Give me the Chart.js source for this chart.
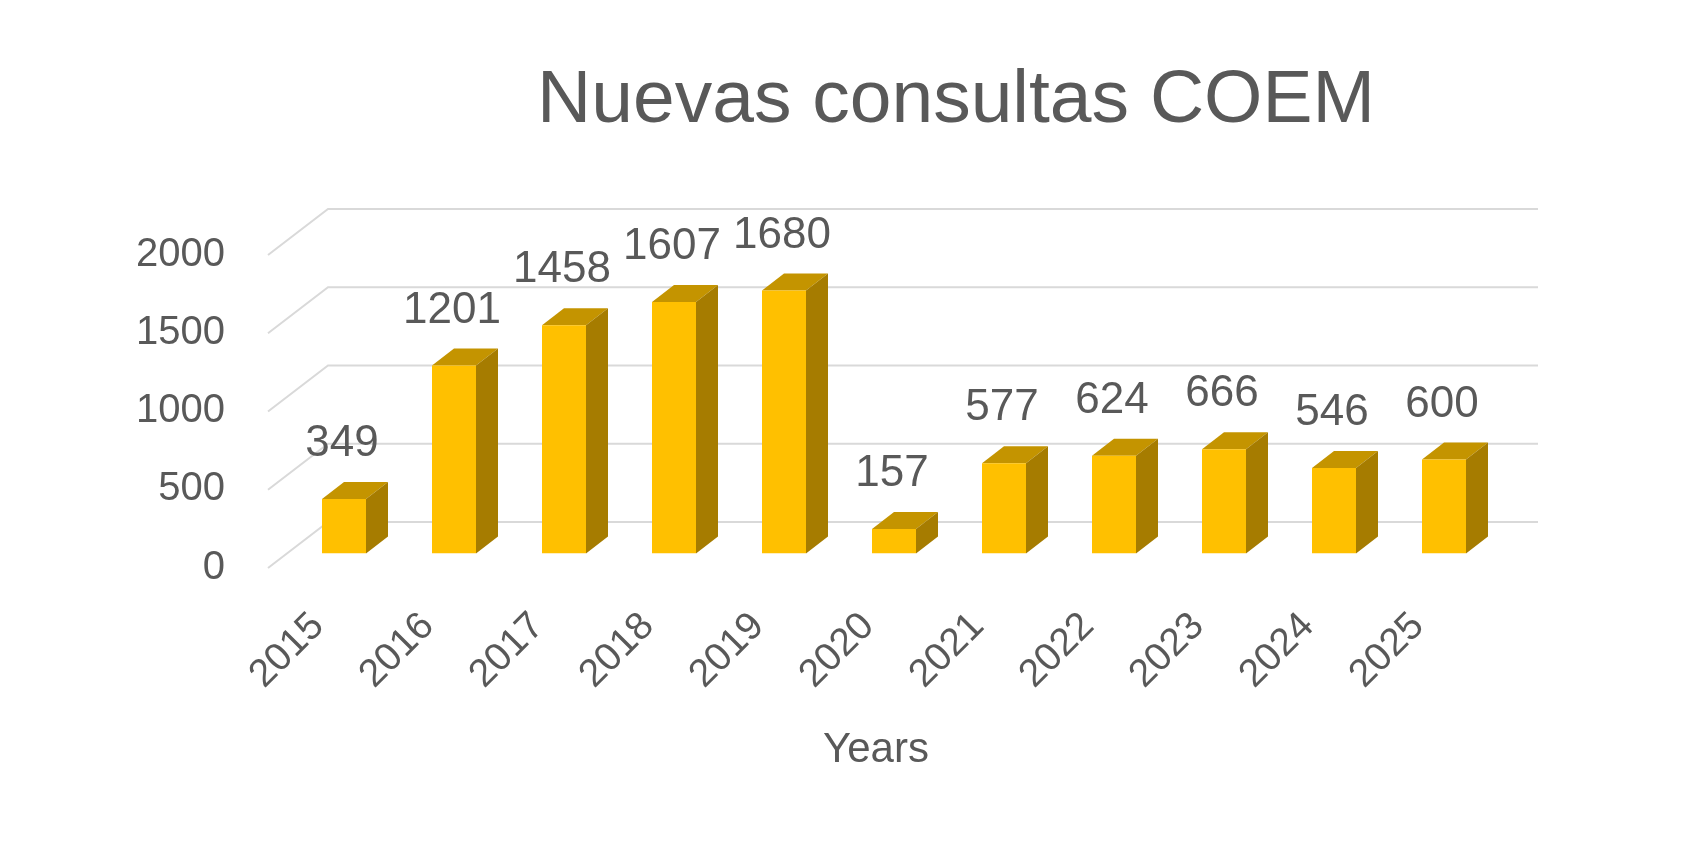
<!DOCTYPE html>
<html>
<head>
<meta charset="utf-8">
<title>Nuevas consultas COEM</title>
<script src="https://cdn.jsdelivr.net/npm/chart.js@4.4.1/dist/chart.umd.min.js"></script>
<style>
    html, body { margin: 0; padding: 0; background: #ffffff; }
    #contenedor { width: 1696px; height: 850px; }
</style>
</head>
<body>
<div id="contenedor"><canvas id="graficaConsultas"></canvas></div>
<script>
const years = ["2015", "2016", "2017", "2018", "2019", "2020", "2021", "2022", "2023", "2024", "2025"];
const consultas = [349, 1201, 1458, 1607, 1680, 157, 577, 624, 666, 546, 600];
const yTicks = [0, 500, 1000, 1500, 2000];
const chartTitle = "Nuevas consultas COEM";
const xAxisTitle = "Years";

const FUENTE = '"Liberation Sans", Arial, sans-serif';
const GRIS_TEXTO = "#595959";
const GRIS_LINEA = "#d9d9d9";

// desplazamientos de la perspectiva respecto al plano de las barras
const planoFrente = { dx: -21, dy: 14.5 };
const planoFondo = { dx: 39, dy: -31.5 };
const fondoBarra = { dx: 22, dy: -17 };

const efecto3d = {
    id: "efecto3d",
    beforeDatasetsDraw(chart) {
        const { ctx, chartArea, scales } = chart;
        const y = scales.y;
        ctx.save();
        ctx.strokeStyle = GRIS_LINEA;
        ctx.lineWidth = 2;
        yTicks.forEach((v) => {
            const py = y.getPixelForValue(v);
            ctx.beginPath();
            ctx.moveTo(chartArea.left + planoFrente.dx, py + planoFrente.dy);
            ctx.lineTo(chartArea.left + planoFondo.dx, py + planoFondo.dy);
            ctx.lineTo(chartArea.right + planoFondo.dx, py + planoFondo.dy);
            ctx.stroke();
        });

        // caras superior y lateral de cada barra
        chart.getDatasetMeta(0).data.forEach((bar) => {
            const { x, y: top, base, width } = bar.getProps(["x", "y", "base", "width"], true);
            const l = x - width / 2;
            const r = x + width / 2;
            const { dx, dy } = fondoBarra;

            ctx.fillStyle = "#c49400";
            ctx.beginPath();
            ctx.moveTo(l, top);
            ctx.lineTo(r, top);
            ctx.lineTo(r + dx, top + dy);
            ctx.lineTo(l + dx, top + dy);
            ctx.closePath();
            ctx.fill();

            ctx.fillStyle = "#a67c00";
            ctx.beginPath();
            ctx.moveTo(r, top);
            ctx.lineTo(r + dx, top + dy);
            ctx.lineTo(r + dx, base + dy);
            ctx.lineTo(r, base);
            ctx.closePath();
            ctx.fill();
        });
        ctx.restore();
    },
    afterDatasetsDraw(chart) {
        const { ctx } = chart;
        ctx.save();
        ctx.fillStyle = GRIS_TEXTO;
        ctx.font = "44px " + FUENTE;
        ctx.textAlign = "center";
        ctx.textBaseline = "middle";
        chart.getDatasetMeta(0).data.forEach((bar, i) => {
            const { x, y } = bar.getProps(["x", "y"], true);
            ctx.fillText(consultas[i], x - 2, y - 55);
        });
        ctx.restore();
    },
    afterDraw(chart) {
        const { ctx, chartArea } = chart;
        const centro = (chartArea.left + chartArea.right) / 2;
        ctx.save();
        ctx.fillStyle = GRIS_TEXTO;
        ctx.textAlign = "center";
        ctx.textBaseline = "alphabetic";
        ctx.font = "75px " + FUENTE;
        ctx.fillText(chartTitle, centro + 62, 122);
        ctx.font = "42px " + FUENTE;
        ctx.fillText(xAxisTitle, centro - 18, 762);
        ctx.restore();
    },
};

new Chart(document.getElementById("graficaConsultas"), {
    type: "bar",
    data: {
        labels: years,
        datasets: [
            {
                label: "Consultas",
                data: consultas,
                backgroundColor: "#ffc000",
                borderWidth: 0,
                categoryPercentage: 1,
                barPercentage: 0.4,
            },
        ],
    },
    options: {
        responsive: true,
        maintainAspectRatio: false,
        animation: false,
        layout: {
            padding: { top: 240.5, right: 197, bottom: 0, left: 0 },
        },
        plugins: {
            legend: { display: false },
            title: { display: false },
            tooltip: { enabled: false },
        },
        scales: {
            x: {
                grid: { display: false, drawTicks: false },
                border: { display: false },
                ticks: {
                    color: GRIS_TEXTO,
                    font: { family: FUENTE, size: 39 },
                    minRotation: 45,
                    maxRotation: 45,
                    autoSkip: false,
                    labelOffset: -26,
                    padding: 50,
                },
                afterFit(scale) {
                    scale.height = 296.5;
                },
            },
            y: {
                min: 0,
                max: 2000,
                grid: { display: false, drawTicks: false },
                border: { display: false },
                ticks: {
                    stepSize: 500,
                    color: GRIS_TEXTO,
                    font: { family: FUENTE, size: 40 },
                    labelOffset: 14,
                    padding: 64,
                    callback: (value) => String(value),
                },
                afterFit(scale) {
                    scale.width = 289;
                },
            },
        },
    },
    plugins: [efecto3d],
});
</script>
</body>
</html>
